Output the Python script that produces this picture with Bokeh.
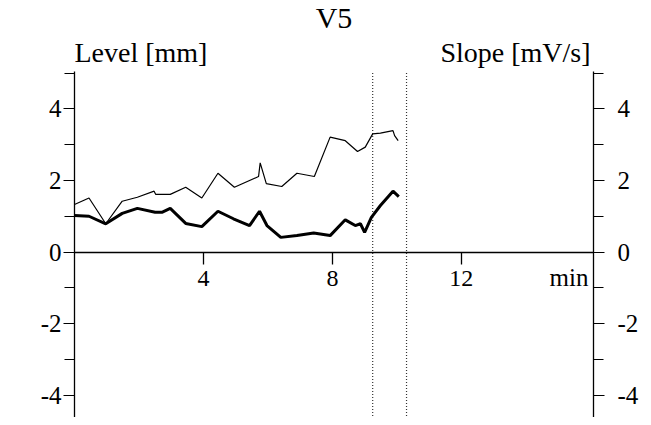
from bokeh.plotting import figure
from bokeh.models import LinearAxis, FixedTicker, Range1d, Label
from bokeh.embed import file_html
from bokeh.resources import INLINE

# ---- data ----
t_upper = [0.0, 0.45, 0.97, 1.48, 1.95, 2.47, 2.52, 2.97, 3.45, 3.95, 4.45, 4.96,
           5.71, 5.76, 5.95, 6.43, 6.90, 7.44, 7.93, 8.40, 8.78, 9.02, 9.25, 9.49,
           9.88, 9.93, 10.04]
upper = [1.33, 1.51, 0.79, 1.42, 1.53, 1.70, 1.61, 1.61, 1.81, 1.51, 2.20, 1.81,
         2.11, 2.49, 1.91, 1.83, 2.20, 2.11, 3.21, 3.11, 2.81, 2.93, 3.30, 3.32,
         3.39, 3.25, 3.11]

t_lower = [0.0, 0.45, 0.97, 1.48, 1.95, 2.50, 2.71, 2.97, 3.45, 3.95, 4.45, 4.93,
           5.43, 5.74, 5.97, 6.40, 6.90, 7.42, 7.93, 8.40, 8.71, 8.87, 9.00, 9.21,
           9.49, 9.88, 10.06]
lower = [1.02, 1.00, 0.79, 1.08, 1.22, 1.11, 1.11, 1.22, 0.80, 0.71, 1.14, 0.93,
         0.74, 1.14, 0.74, 0.41, 0.46, 0.53, 0.46, 0.90, 0.74, 0.79, 0.55, 0.97,
         1.30, 1.70, 1.55]

x_ticks = [4, 8, 12]
y_major = [-4, -2, 0, 2, 4]
y_minor = [-5, -3, -1, 1, 3, 5]
y_labels = {-4: "-4", -2: "-2", 0: "0", 2: "2", 4: "4"}
marker_times = [9.25, 10.3]

title_text = "V5"
left_title = "Level [mm]"
right_title = "Slope [mV/s]"
x_unit = "min"

FONT = "Liberation Serif"
Y_LO, Y_HI = -5.0, 5.04   # extent of the drawn axes
X_HI = 16.1

p = figure(width=643, height=417, output_backend="svg", toolbar_location=None,
           x_range=Range1d(0, X_HI), y_range=Range1d(-4.62, 7.025),
           x_axis_location=None, y_axis_location=None,
           min_border_left=74, min_border_right=50, min_border_top=0,
           min_border_bottom=0)
p.outline_line_color = None
p.background_fill_color = "white"
p.border_fill_color = "white"
p.grid.visible = False

def style_y(ax, standoff):
    ax.ticker = FixedTicker(ticks=y_major, minor_ticks=y_minor)
    ax.bounds = (Y_LO, Y_HI)
    ax.major_label_overrides = y_labels
    ax.major_tick_out = 11
    ax.major_tick_in = 0
    ax.minor_tick_out = 10
    ax.minor_tick_in = 0
    ax.axis_line_width = 1.3
    ax.major_tick_line_width = 1.2
    ax.minor_tick_line_width = 1.2
    ax.axis_line_color = "black"
    ax.major_label_text_font = FONT
    ax.major_label_text_font_size = "25px"
    ax.major_label_text_color = "black"
    ax.major_label_standoff = standoff

yl = LinearAxis()
style_y(yl, 2)
p.add_layout(yl, "left")
yr = LinearAxis()
style_y(yr, 13)
p.add_layout(yr, "right")

xa = LinearAxis(fixed_location=0)
xa.ticker = FixedTicker(ticks=x_ticks, minor_ticks=[])
xa.major_tick_out = 12
xa.major_tick_in = 0
xa.axis_line_width = 1.5
xa.major_tick_line_width = 1.3
xa.major_label_text_font = FONT
xa.major_label_text_font_size = "24px"
xa.major_label_text_color = "black"
xa.major_label_standoff = 7
p.add_layout(xa, "below")

p.segment(x0=marker_times, y0=[Y_LO] * len(marker_times),
          x1=marker_times, y1=[Y_HI] * len(marker_times),
          line_color="#333333", line_width=1.2, line_dash="1 2")

p.line(t_upper, upper, line_color="black", line_width=1.2)
p.line(t_lower, lower, line_color="black", line_width=3)

p.add_layout(Label(x=X_HI / 2, y=Y_HI, y_offset=54, text=title_text, text_align="center",
                   text_baseline="alphabetic", text_font=FONT, text_font_size="30px",
                   text_color="black"))
p.add_layout(Label(x=0, y=Y_HI, y_offset=19, text=left_title, text_align="left",
                   text_baseline="alphabetic", text_font=FONT, text_font_size="28px",
                   text_color="black"))
p.add_layout(Label(x=X_HI, y=Y_HI, y_offset=19, x_offset=-3, text=right_title,
                   text_align="right", text_baseline="alphabetic", text_font=FONT,
                   text_font_size="28px", text_color="black"))
p.add_layout(Label(x=X_HI, y=0, x_offset=-5, y_offset=-25, text=x_unit,
                   text_align="right", text_baseline="alphabetic", text_font=FONT,
                   text_font_size="25px", text_color="black"))

open("out.html", "w").write(file_html(p, INLINE))
